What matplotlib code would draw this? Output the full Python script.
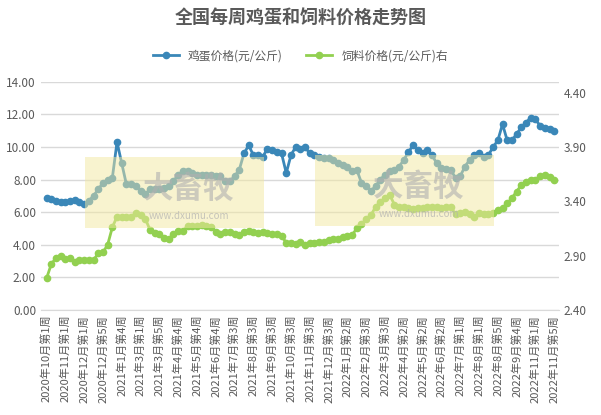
import matplotlib
matplotlib.use("Agg")
import matplotlib.pyplot as plt
from matplotlib.patches import Rectangle
from matplotlib.lines import Line2D

plt.rcParams['font.family'] = ['Noto Sans CJK SC', 'DejaVu Sans']

tick_labels = ["2020年10月第1周","2020年11月第1周","2020年12月第1周","2020年12月第5周","2021年1月第4周",
"2021年3月第1周","2021年3月第5周","2021年4月第4周","2021年5月第4周","2021年6月第4周","2021年7月第3周",
"2021年8月第3周","2021年9月第3周","2021年10月第3周","2021年11月第3周","2021年12月第3周","2022年1月第2周",
"2022年2月第3周","2022年3月第3周","2022年4月第2周","2022年5月第2周","2022年6月第2周","2022年7月第1周",
"2022年8月第1周","2022年8月第5周","2022年9月第4周","2022年11月第1周","2022年11月第5周"]

egg = [6.9,6.8,6.7,6.65,6.6,6.7,6.75,6.6,6.5,6.7,7.0,7.4,7.8,8.0,8.1,10.3,9.0,7.7,7.7,7.6,7.3,7.1,7.4,7.4,7.4,
       7.5,7.6,7.9,8.3,8.5,8.5,8.4,8.3,8.3,8.3,8.3,8.2,8.2,7.9,7.9,8.2,8.6,9.6,10.1,9.5,9.5,9.4,9.9,9.8,9.7,
       9.6,8.4,9.5,10.0,9.9,10.0,9.6,9.5,9.4,9.35,9.3,9.2,9.0,8.9,8.8,8.5,8.6,7.8,7.6,7.3,7.6,8.0,8.3,8.5,8.6,
       8.8,9.2,9.7,10.1,9.8,9.6,9.8,9.5,9.0,8.7,8.65,8.6,8.1,8.2,8.8,9.2,9.5,9.6,9.4,9.5,10.0,10.4,11.4,10.4,
       10.4,10.8,11.2,11.5,11.8,11.7,11.3,11.15,11.1,11.0]
feed = [2.69,2.82,2.88,2.9,2.87,2.88,2.84,2.86,2.86,2.86,2.86,2.92,2.93,3.0,3.16,3.26,3.26,3.26,3.26,3.29,3.27,
        3.24,3.14,3.11,3.10,3.06,3.05,3.1,3.13,3.13,3.17,3.17,3.17,3.18,3.17,3.16,3.12,3.1,3.12,3.12,3.1,3.09,
        3.12,3.13,3.12,3.11,3.12,3.11,3.1,3.10,3.08,3.02,3.02,3.01,3.03,3.0,3.02,3.02,3.03,3.03,3.04,3.05,3.05,
        3.07,3.08,3.09,3.15,3.19,3.24,3.27,3.35,3.39,3.43,3.46,3.37,3.35,3.35,3.34,3.33,3.34,3.34,3.35,3.35,3.35,
        3.34,3.35,3.35,3.28,3.29,3.30,3.28,3.26,3.29,3.28,3.28,3.29,3.32,3.34,3.38,3.43,3.49,3.55,3.58,3.60,3.60,
        3.63,3.64,3.62,3.60]

blue = '#3A87B8'
green = '#92D050'
fig = plt.figure(figsize=(6.01, 4.15), dpi=100)
ax = fig.add_axes([0.068, 0.253, 0.862, 0.55])
ax2 = ax.twinx()
x = list(range(len(egg)))
ax.plot(x, egg, color=blue, marker='o', ms=4.5, lw=2, zorder=3)
ax2.plot(x, feed, color=green, marker='o', ms=4.5, lw=2, zorder=3)
ax.set_ylim(0, 14)
ax.set_yticks(range(0, 15, 2))
ax.set_yticklabels([f"{v:.2f}" for v in range(0, 15, 2)])
ax2.set_ylim(2.4, 4.5)
ax2.set_yticks([2.4, 2.9, 3.4, 3.9, 4.4])
ax2.set_yticklabels(["2.40", "2.90", "3.40", "3.90", "4.40"])
ax.set_xlim(-1.2, 109)
ax.set_xticks(range(0, len(egg), 4))
ax.set_xticklabels(tick_labels, rotation=90, fontsize=8, color='#595959')
ax.grid(axis='y', color='#D9D9D9', lw=1)
ax.set_axisbelow(True)
for a in (ax, ax2):
    for s in a.spines.values():
        s.set_visible(False)
    a.tick_params(length=0, labelsize=8.5, colors='#595959')
ax.spines['bottom'].set_visible(True)
ax.spines['bottom'].set_color('#D9D9D9')
ax.tick_params(axis='x', labelsize=8)

for (x0, y0) in [(0.085, 0.36), (0.53, 0.37)]:
    r = Rectangle((x0, y0), 0.345, 0.31, transform=ax.transAxes, facecolor='#F2E8A0', alpha=0.5,
                  edgecolor='none', zorder=5)
    ax2.add_patch(r)
    ax2.text(x0 + 0.2, y0 + 0.17, "大畜牧", transform=ax.transAxes, fontsize=22, fontweight='bold',
             color='#B0B0B0', alpha=0.6, ha='center', va='center', zorder=6)
    ax2.text(x0 + 0.2, y0 + 0.05, "www.dxumu.com", transform=ax.transAxes, fontsize=7,
             color='#B0B0B0', alpha=0.7, ha='center', va='center', zorder=6)

fig.text(0.5, 0.955, "全国每周鸡蛋和饲料价格走势图", ha='center', va='center', fontsize=13,
         fontweight='bold', color='#595959')
handles = [Line2D([], [], color=blue, marker='o', ms=4.5, lw=2),
           Line2D([], [], color=green, marker='o', ms=4.5, lw=2)]
fig.legend(handles, ["鸡蛋价格(元/公斤)", "饲料价格(元/公斤)右"], loc='center', bbox_to_anchor=(0.5, 0.865),
           ncol=2, frameon=False, fontsize=8.5, labelcolor='#595959', handlelength=2.2, columnspacing=2)
fig.savefig("out.png", dpi=100)
